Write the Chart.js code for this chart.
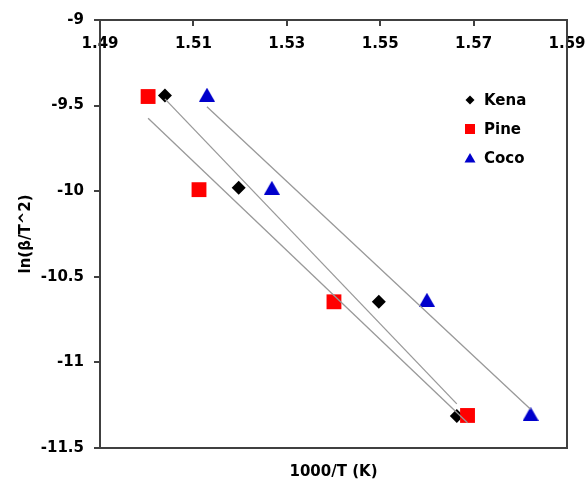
<!DOCTYPE html>
<html>
<head>
<meta charset="utf-8">
<script src="https://cdn.jsdelivr.net/npm/chart.js@4.4.1/dist/chart.umd.min.js"></script>
<style>
  html, body { margin: 0; padding: 0; background: #fff; }
  #wrap { width: 585px; height: 483px; }
</style>
</head>
<body>
<div id="wrap"><canvas id="chart" width="585" height="483"></canvas></div>
<script>
/* global Chart */

const xTicks = [1.49, 1.51, 1.53, 1.55, 1.57, 1.59];
const yTicks = [-9, -9.5, -10, -10.5, -11, -11.5];

const kenaX = [1.5039, 1.5197, 1.5497, 1.5664];
const kenaY = [-9.441, -9.980, -10.646, -11.313];
const pineX = [1.5003, 1.5112, 1.5401, 1.5687];
const pineY = [-9.447, -9.991, -10.646, -11.310];
const cocoX = [1.5129, 1.5268, 1.5600, 1.5822];
const cocoY = [-9.436, -9.980, -10.634, -11.300];

const axisFont = { family: "'DejaVu Sans', sans-serif", size: 15, weight: "bold" };
const frameColor = "#404040";
const trendColor = "#999999";

function toPoints(xs, ys) {
  return xs.map((x, i) => ({ x, y: ys[i] }));
}

// least-squares trendline spanning the series' x range
function fitLine(xs, ys) {
  const n = xs.length;
  const mx = xs.reduce((a, b) => a + b, 0) / n;
  const my = ys.reduce((a, b) => a + b, 0) / n;
  let sxy = 0, sxx = 0;
  xs.forEach((x, i) => {
    sxy += (x - mx) * (ys[i] - my);
    sxx += (x - mx) * (x - mx);
  });
  const k = sxy / sxx;
  const x0 = Math.min(...xs), x1 = Math.max(...xs);
  return [{ x: x0, y: my + k * (x0 - mx) }, { x: x1, y: my + k * (x1 - mx) }];
}

function trend(xs, ys) {
  return {
    type: "line", data: fitLine(xs, ys), xAxisID: "x", yAxisID: "y",
    showLine: true, borderColor: trendColor, borderWidth: 1.3, pointRadius: 0, order: 0,
  };
}

// triangle marker centred on its box (built-in one sits high)
function triangleImage(w, h, color) {
  const c = document.createElement("canvas");
  c.width = w; c.height = h;
  const g = c.getContext("2d");
  g.fillStyle = color;
  g.beginPath();
  g.moveTo(w / 2, 0); g.lineTo(w, h); g.lineTo(0, h);
  g.closePath();
  g.fill();
  return c;
}

const legendItems = [
  { name: "Kena", color: "#000000", shape: "diamond" },
  { name: "Pine", color: "#ff0000", shape: "square" },
  { name: "Coco", color: "#0000cc", shape: "triangle" },
];

function drawMarker(ctx, shape, x, y) {
  ctx.beginPath();
  if (shape === "diamond") {
    ctx.moveTo(x, y - 4.5); ctx.lineTo(x + 4.5, y); ctx.lineTo(x, y + 4.5); ctx.lineTo(x - 4.5, y);
  } else if (shape === "square") {
    ctx.rect(x - 5, y - 5, 10, 10);
  } else {
    ctx.moveTo(x, y - 5); ctx.lineTo(x + 5.5, y + 4.5); ctx.lineTo(x - 5.5, y + 4.5);
  }
  ctx.closePath();
  ctx.fill();
}

const insideLegend = {
  id: "insideLegend",
  afterDraw(chart) {
    const { ctx, chartArea } = chart;
    const mx = chartArea.left + 370;
    ctx.save();
    ctx.font = "bold 15px 'DejaVu Sans', sans-serif";
    ctx.textBaseline = "middle";
    legendItems.forEach((it, i) => {
      const y = chartArea.top + 80 + i * 29;
      ctx.fillStyle = it.color;
      drawMarker(ctx, it.shape, mx, y);
      ctx.fillStyle = "#000";
      ctx.fillText(it.name, mx + 14, y + 1);
    });
    ctx.restore();
  },
};

// right and bottom edges of the plot box
const frame = {
  id: "frame",
  afterDraw(chart) {
    const { ctx, chartArea: a } = chart;
    ctx.save();
    ctx.strokeStyle = frameColor;
    ctx.lineWidth = 2;
    ctx.beginPath();
    ctx.moveTo(a.left, a.bottom);
    ctx.lineTo(a.right, a.bottom);
    ctx.lineTo(a.right, a.top);
    ctx.stroke();
    ctx.restore();
  },
};

new Chart(document.getElementById("chart"), {
  type: "scatter",
  data: {
    datasets: [
      trend(kenaX, kenaY),
      trend(pineX, pineY),
      trend(cocoX, cocoY),
      {
        label: "Kena", data: toPoints(kenaX, kenaY), xAxisID: "x", yAxisID: "y",
        pointStyle: "rectRot", pointRadius: 7, backgroundColor: "#000", borderWidth: 0, order: 3,
      },
      {
        label: "Pine", data: toPoints(pineX, pineY), xAxisID: "x", yAxisID: "y",
        pointStyle: "rect", pointRadius: 10.5, backgroundColor: "#ff0000", borderWidth: 0, order: 2,
      },
      {
        label: "Coco", data: toPoints(cocoX, cocoY), xAxisID: "x", yAxisID: "y",
        pointStyle: triangleImage(16, 14, "#0000cc"), pointRadius: 8, borderWidth: 0, order: 1,
      },
    ],
  },
  options: {
    responsive: false,
    devicePixelRatio: 1,
    animation: false,
    layout: { padding: { left: 0, top: 20, right: 18, bottom: 0 } },
    plugins: { legend: { display: false }, tooltip: { enabled: false } },
    scales: {
      x: {
        type: "linear", axis: "x", min: 1.49, max: 1.59, position: { y: -9 },
        afterBuildTicks: (s) => { s.ticks = xTicks.map((v) => ({ value: v })); },
        ticks: { font: axisFont, color: "#000", padding: 10, callback: (v) => Number(v).toFixed(2) },
        grid: { drawOnChartArea: false, tickLength: 5, color: frameColor, lineWidth: 2 },
        border: { color: frameColor, width: 2 },
        afterFit: (s) => { s.paddingLeft = 0; s.paddingRight = 0; },
      },
      xb: {
        type: "linear", axis: "x", position: "bottom", min: 1.49, max: 1.59,
        ticks: { display: false },
        grid: { display: false },
        border: { display: false },
        title: { display: true, text: "1000/T (K)", font: axisFont, color: "#000", padding: { top: 0, bottom: 2 } },
        afterFit: (s) => { s.height = 35; s.paddingLeft = 0; s.paddingRight = 0; },
      },
      y: {
        type: "linear", min: -11.5, max: -9,
        afterBuildTicks: (s) => { s.ticks = yTicks.map((v) => ({ value: v })); },
        ticks: { font: axisFont, color: "#000", padding: 10, callback: (v) => String(v) },
        grid: { drawOnChartArea: false, tickLength: 6, color: frameColor, lineWidth: 2 },
        border: { color: frameColor, width: 2 },
        title: { display: true, text: "ln(β/T^2)", font: axisFont, color: "#000", padding: { top: 17 } },
        afterFit: (s) => { s.width = 100; s.paddingTop = 0; s.paddingBottom = 0; },
      },
    },
  },
  plugins: [insideLegend, frame],
});
</script>
</body>
</html>
